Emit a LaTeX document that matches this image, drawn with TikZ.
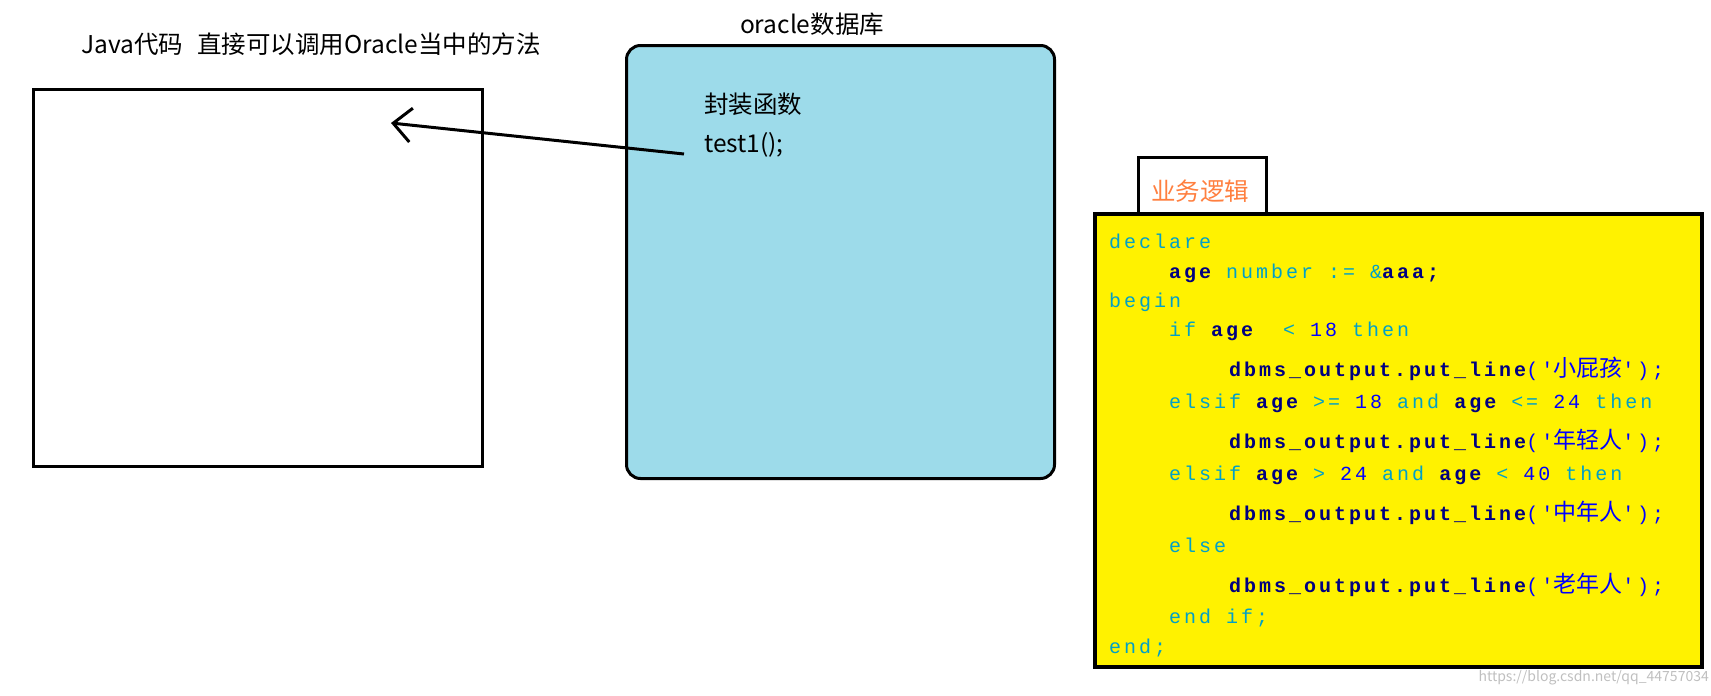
\documentclass[tikz,border=0pt]{standalone}
\usepackage{fontspec}
\setmainfont{Noto Sans CJK SC}
\setmonofont[LetterSpace=15]{Liberation Mono}
\newfontfamily\cjk{Noto Sans CJK SC}
\usetikzlibrary{arrows.meta}
\definecolor{kw}{HTML}{00A0C8}
\definecolor{nv}{HTML}{000080}
\definecolor{bl}{HTML}{0000FF}
\definecolor{boxblue}{HTML}{9DDBEA}
\definecolor{ylw}{HTML}{FFF200}
\definecolor{orng}{HTML}{FF7F3F}
\newcommand{\cK}[1]{\textcolor{kw}{#1}}
\newcommand{\cB}[1]{\textcolor{nv}{\bfseries #1}}
\newcommand{\cP}[1]{\textcolor{bl}{#1}}
\newcommand{\cC}[1]{\textcolor{bl}{\cjk\fontsize{23}{24}\selectfont #1}}
\tikzset{
 lbl/.style={font=\fontsize{24.5}{28}\selectfont, inner sep=0pt},
 code/.style={anchor=base west, inner sep=0pt, font=\ttfamily\fontsize{20}{22}\selectfont}
}
\begin{document}
\begin{tikzpicture}[x=1pt,y=-1pt]
\useasboundingbox (0,0) rectangle (1711,696);
\node[draw, line width=3pt, minimum width=449pt, minimum height=377pt, anchor=north west] (java) at (32,88) {};
\node[lbl] (jt) at (311,44) {Java代码\hspace{14pt}直接可以调用Oracle当中的方法};
\node[draw, line width=3pt, fill=boxblue, rounded corners=14pt, minimum width=428pt, minimum height=433pt, anchor=north west] (ora) at (625,44) {};
\node[lbl] (ot) at (812,24) {oracle数据库};
\node[lbl, anchor=west] (fz) at (704,104) {封装函数};
\node[lbl, anchor=west] (t1) at (704,145) {test1();};
\coordinate (ah) at (391,123);
\draw[line width=3pt, -{Straight Barb[length=18pt,width=34pt,line width=3pt]}] (t1.west) ++(-20,9) coordinate (as) -- (ah);
\node[draw, line width=3pt, fill=white, minimum width=128pt, minimum height=58pt, anchor=north west] (tab) at (1137,156) {};
\node[lbl, text=orng] (tt) at (1200,191) {业务逻辑};
\node[draw, line width=4pt, fill=ylw, minimum width=607pt, minimum height=453pt, anchor=north west] (yb) at (1093,212) {};
\node[code] (l1) at (1109,248) {\cK{declare}};
\node[code] (l2) at (1169,278) {\cB{age} \cK{number := \&}\cB{aaa;}};
\node[code] (l3) at (1109,307) {\cK{begin}};
\node[code] (l4) at (1169,336) {\cK{if} \cB{age}~ \cK{<} \cP{18} \cK{then}};
\node[code] (l5) at (1229,376) {\cB{dbms\_output.put\_line}\cP{('}\cC{小屁孩}\cP{');}};
\node[code] (l6) at (1169,408) {\cK{elsif} \cB{age} \cK{>=} \cP{18} \cK{and} \cB{age} \cK{<=} \cP{24} \cK{then}};
\node[code] (l7) at (1229,448) {\cB{dbms\_output.put\_line}\cP{('}\cC{年轻人}\cP{');}};
\node[code] (l8) at (1169,480) {\cK{elsif} \cB{age} \cK{>} \cP{24} \cK{and} \cB{age} \cK{<} \cP{40} \cK{then}};
\node[code] (l9) at (1229,520) {\cB{dbms\_output.put\_line}\cP{('}\cC{中年人}\cP{');}};
\node[code] (l10) at (1169,552) {\cK{else}};
\node[code] (l11) at (1229,592) {\cB{dbms\_output.put\_line}\cP{('}\cC{老年人}\cP{');}};
\node[code] (l12) at (1169,623) {\cK{end if;}};
\node[code] (l13) at (1109,653) {\cK{end;}};
\node[anchor=east, inner sep=0pt, text=black!25, font=\fontsize{14}{16}\selectfont] (wm) at (1709,678) {https://blog.csdn.net/qq\_44757034};
\end{tikzpicture}
\end{document}
